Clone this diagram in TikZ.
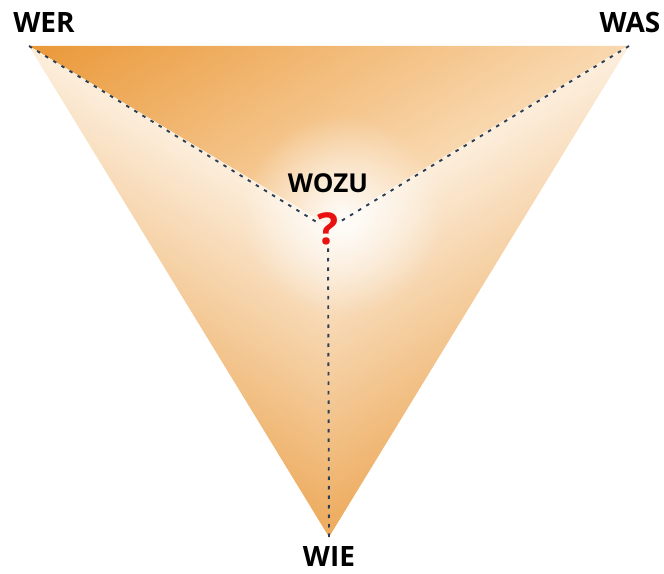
\documentclass[tikz,border=0pt]{standalone}
\usepackage{fontspec}
\newfontfamily\lab{Open Sans}
\usetikzlibrary{fadings}
\definecolor{topDeep}{RGB}{234,152,56}
\definecolor{topMid}{RGB}{242,180,105}
\definecolor{topPale}{RGB}{249,216,175}
\definecolor{sideDeep}{RGB}{237,170,92}
\definecolor{sideMid}{RGB}{244,193,130}
\definecolor{sidePale}{RGB}{252,238,220}
\definecolor{dashcol}{RGB}{45,62,82}
\definecolor{qred}{RGB}{232,16,16}
\tikzfading[name=glowfade, inner color=transparent!0, outer color=transparent!100]
\tikzset{
  conn/.style={draw=dashcol, line width=1.9pt, dash pattern=on 3.5pt off 6pt},
  vlabel/.style={font=\lab\bfseries\fontsize{28}{28}\selectfont, anchor=base, inner sep=0pt},
  qmark/.style={font=\lab\bfseries\fontsize{44}{44}\selectfont, text=qred, inner sep=0pt}
}
\begin{document}
\begin{tikzpicture}[x=1pt,y=1pt]
\useasboundingbox (0,0) rectangle (664,573);
\coordinate (A) at (29,527);
\coordinate (B) at (629,527);
\coordinate (C) at (329,36);
\coordinate (O) at (329,347);
% top face
\begin{scope}
  \clip (A) -- (B) -- (O) -- cycle;
  \begin{scope}[transform canvas={shift={(329,347)}, rotate=31.1}]
    \shade[bottom color=topPale, middle color=topMid, top color=topDeep] (-1000,0) rectangle (1000,310);
  \end{scope}
\end{scope}
% left face
\begin{scope}
  \clip (A) -- (O) -- (C) -- cycle;
  \begin{scope}[transform canvas={shift={(329,347)}, rotate=-31.1}]
    \shade[top color=sidePale, middle color=sideMid, bottom color=sideDeep] (-1000,0) rectangle (1000,-268);
  \end{scope}
\end{scope}
% right face
\begin{scope}
  \clip (B) -- (O) -- (C) -- cycle;
  \begin{scope}[transform canvas={shift={(329,347)}, rotate=31.1}]
    \shade[top color=sidePale, middle color=sideMid, bottom color=sideDeep] (-1000,0) rectangle (1000,-268);
  \end{scope}
\end{scope}
% white glow
\begin{scope}
  \clip (A) -- (B) -- (C) -- cycle;
  \fill[white, path fading=glowfade, opacity=0.9] (342,358) circle (100);
\end{scope}
\node[qmark] (q) at (328,344) {?};
\draw[conn] (A) -- (q);
\draw[conn] (B) -- (q);
\draw[conn] (C) -- (q);
\node[vlabel] (wer) at (44,540) {WER};
\node[vlabel] (was) at (630,540) {WAS};
\node[vlabel, font=\lab\bfseries\fontsize{26}{26}\selectfont] (wozu) at (328,380) {WOZU};
\node[vlabel] (wie) at (329,6) {WIE};
\end{tikzpicture}
\end{document}
